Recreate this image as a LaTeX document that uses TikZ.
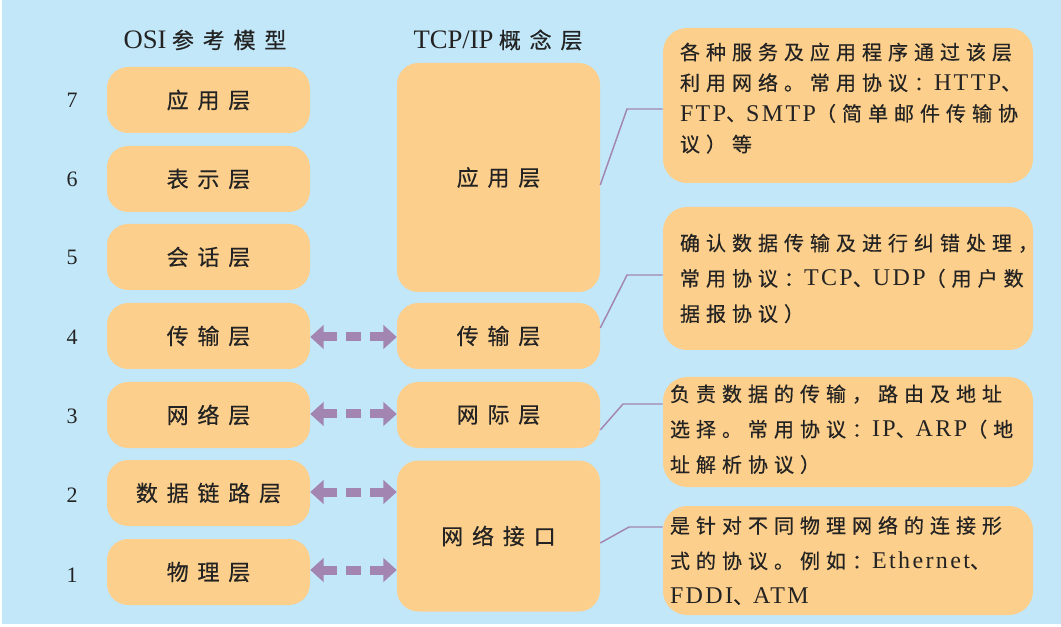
\documentclass[tikz,border=0pt]{standalone}
\usepackage{fontspec}
\setmainfont{Liberation Serif}
\newfontfamily\cjkb[LetterSpace=40,FakeBold=0.5]{Noto Sans CJK SC}
\newfontfamily\cjkd[LetterSpace=30,FakeBold=0.5]{Noto Sans CJK SC}
\newfontfamily\latd[LetterSpace=10]{Liberation Serif}
\usetikzlibrary{arrows.meta}
\definecolor{bgblue}{RGB}{194,231,249}
\definecolor{boxor}{RGB}{253,207,140}
\definecolor{arrp}{RGB}{163,133,177}
\definecolor{txt}{RGB}{35,35,35}
\newcommand{\Lt}[1]{{\fontsize{18}{27}\selectfont\latd #1}}
\begin{document}
\begin{tikzpicture}[x=0.75pt,y=-0.75pt,
  layer/.style={fill=boxor,draw=none,rounded corners=16pt,minimum width=152.25pt,
    minimum height=49.5pt,inner sep=0pt,text=txt,font=\fontsize{16.5}{20}\selectfont\cjkb},
  num/.style={text=txt,font=\fontsize{16.5}{20}\selectfont},
  head/.style={text=txt,font=\fontsize{20}{24}\selectfont},
  desc/.style={fill=boxor,draw=none,rounded corners=18pt,minimum width=277.5pt,inner sep=0pt},
  dtext/.style={anchor=west,align=left,inner sep=0pt,text=txt},
  dbl/.style={draw=arrp,line width=6.75pt,dash pattern=on 10.5pt off 6.75pt on 11.25pt off 6.75pt,
    {Triangle[width=17.5pt,length=10pt]}-{Triangle[width=17.5pt,length=10pt]}},
  conn/.style={draw=arrp,line width=1.1pt}]
\path[use as bounding box] (0,0) rectangle (1061,627);
\fill[bgblue] (2,0) rectangle (1061,624);

% headers
\node[head] (h1) at (205,40) {OSI\hspace{4pt}{\fontsize{16.5}{20}\selectfont\cjkb 参考模型}};
\node[head] (h2) at (498,40) {TCP/IP\hspace{4pt}{\fontsize{16.5}{20}\selectfont\cjkb 概念层}};

% OSI layers
\node[layer] (o7) at (208.5,100) {应用层};
\node[layer] (o6) at (208.5,179) {表示层};
\node[layer] (o5) at (208.5,257) {会话层};
\node[layer] (o4) at (208.5,336) {传输层};
\node[layer] (o3) at (208.5,415) {网络层};
\node[layer] (o2) at (208.5,493) {数据链路层};
\node[layer] (o1) at (208.5,572) {物理层};

\node[num] (n7) at (72,100) {7};
\node[num] (n6) at (72,179) {6};
\node[num] (n5) at (72,257) {5};
\node[num] (n4) at (72,337) {4};
\node[num] (n3) at (72,416) {3};
\node[num] (n2) at (72,495) {2};
\node[num] (n1) at (72,575) {1};

% TCP/IP layers
\node[layer,minimum height=171.75pt] (app) at (498.5,177.5) {应用层};
\node[layer] (tr) at (498.5,336) {传输层};
\node[layer] (ip) at (498.5,415) {网际层};
\node[layer,minimum height=113.25pt] (ni) at (498.5,536) {网络接口};

% double arrows
\draw[dbl] ([yshift=-0.75pt]o4.east) -- ([yshift=-0.75pt]o4.east -| tr.west);
\draw[dbl] ([yshift=0.75pt]o3.east) -- ([yshift=0.75pt]o3.east -| ip.west);
\draw[dbl] ([yshift=0.75pt]o2.east) -- ([yshift=0.75pt]o2.east -| ni.west);
\draw[dbl] ([yshift=1.5pt]o1.east) -- ([yshift=1.5pt]o1.east -| ni.west);

% description boxes
\node[desc,minimum height=116.25pt] (d1) at (848,105.5) {};
\node[desc,minimum height=107.25pt] (d2) at (848,278.5) {};
\node[desc,minimum height=82.5pt] (d3) at (848,432) {};
\node[desc,minimum height=81.75pt] (d4) at (848,560.5) {};

\node[dtext,font=\fontsize{15}{23}\selectfont] (t1) at ([xshift=12.75pt,yshift=5.5pt]d1.west)
  {{\cjkd 各种服务及应用程序通过该层}\\
   {\cjkd 利用网络。常用协议：}\Lt{HTTP}{\cjkd 、}\\
   \Lt{FTP}{\cjkd 、}\Lt{SMTP}{\cjkd （简单邮件传输协}\\
   {\cjkd 议）等}};
\node[dtext,font=\fontsize{15}{26.5}\selectfont] (t2) at ([xshift=12.75pt]d2.west)
  {{\cjkd 确认数据传输及进行纠错处理，}\\
   {\cjkd 常用协议：}\Lt{TCP}{\cjkd 、}\Lt{UDP}{\cjkd （用户数}\\
   {\cjkd 据报协议）}};
\node[dtext,font=\fontsize{15}{26.5}\selectfont] (t3) at ([xshift=5.25pt,yshift=2pt]d3.west)
  {{\cjkd 负责数据的传输，路由及地址}\\
   {\cjkd 选择。常用协议：}\Lt{IP}{\cjkd 、}\Lt{ARP}{\cjkd （地}\\
   {\cjkd 址解析协议）}};
\node[dtext,font=\fontsize{15}{26.5}\selectfont] (t4) at ([xshift=5.25pt]d4.west)
  {{\cjkd 是针对不同物理网络的连接形}\\
   {\cjkd 式的协议。例如：}\Lt{Ethernet}{\cjkd 、}\\
   \Lt{FDDI}{\cjkd 、}\Lt{ATM}};

% connectors
\coordinate (k1) at (627,109);
\coordinate (k2) at (627,275);
\coordinate (k3) at (623,404);
\coordinate (k4) at (629,527);
\draw[conn] ([yshift=-5.6pt]app.east) -- (k1) -- (k1 -| d1.west);
\draw[conn] ([yshift=6pt]tr.east) -- (k2) -- (k2 -| d2.west);
\draw[conn] ([yshift=-11.25pt]ip.east) -- (k3) -- (k3 -| d3.west);
\draw[conn] ([yshift=-5.25pt]ni.east) -- (k4) -- (k4 -| d4.west);
\end{tikzpicture}
\end{document}
